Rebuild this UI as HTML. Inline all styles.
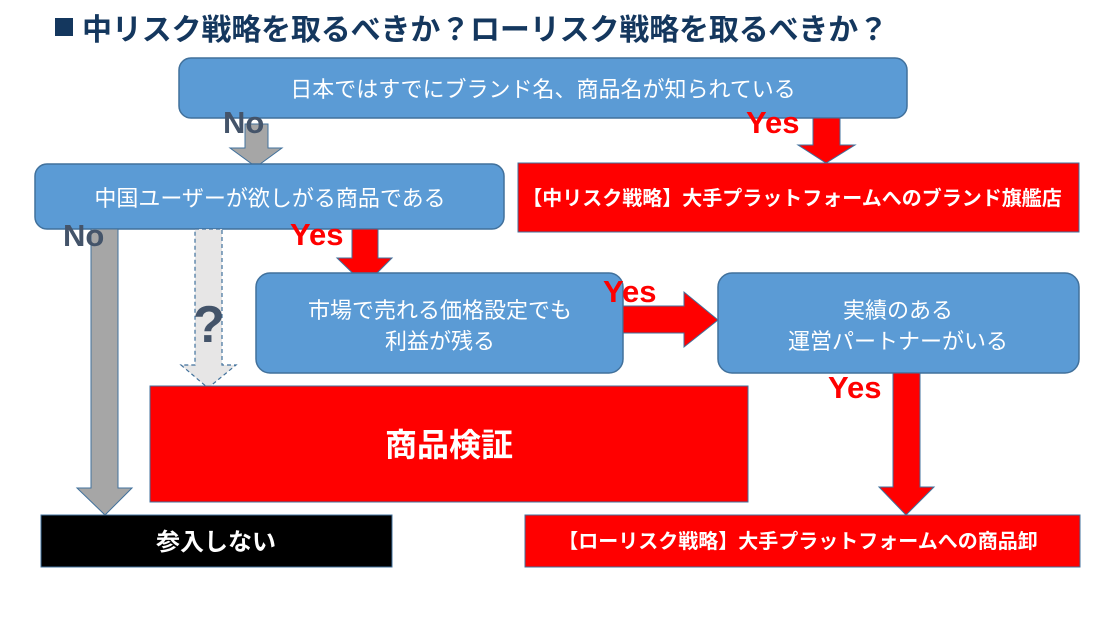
<!DOCTYPE html>
<html><head><meta charset="utf-8"><style>
html,body{margin:0;padding:0;background:#fff;}
svg{display:block;}
text{font-family:"Liberation Sans","Noto Sans CJK JP",sans-serif;}
</style></head><body>
<svg width="1119" height="617" viewBox="0 0 1119 617" xmlns="http://www.w3.org/2000/svg">
<rect x="55" y="18" width="18" height="18" fill="#14375e"/>
<text x="82" y="40" font-size="30" font-weight="bold" fill="#14375e" letter-spacing="-0.15">中リスク戦略を取るべきか？ローリスク戦略を取るべきか？</text>

<rect x="179" y="58" width="728" height="60" rx="12" fill="#5b9bd5" stroke="#41719c" stroke-width="1.5"/>
<text x="543" y="97" font-size="22" fill="#fff" text-anchor="middle">日本ではすでにブランド名、商品名が知られている</text>

<polygon points="245,124 268,124 268,148 282,148 256,167 230,148 245,148" fill="#a6a6a6" stroke="#41719c" stroke-width="1"/>
<text x="223" y="133" font-size="31" font-weight="bold" fill="#44546a">No</text>

<polygon points="813,118 840,118 840,145 855,145 826,163 798,145 813,145" fill="#ff0000" stroke="#41719c" stroke-width="1"/>
<text x="746" y="133" font-size="31" font-weight="bold" fill="#ff0000">Yes</text>

<rect x="35" y="164" width="469" height="65" rx="12" fill="#5b9bd5" stroke="#41719c" stroke-width="1.5"/>
<text x="270" y="206" font-size="22" fill="#fff" text-anchor="middle">中国ユーザーが欲しがる商品である</text>

<rect x="518" y="163" width="561" height="69" fill="#ff0000" stroke="#41719c" stroke-width="1"/>
<text x="792" y="205" font-size="20" font-weight="bold" fill="#fff" text-anchor="middle">【中リスク戦略】大手プラットフォームへのブランド旗艦店</text>

<polygon points="91,229 118,229 118,488 132,488 105,515 77,488 91,488" fill="#a6a6a6" stroke="#41719c" stroke-width="1"/>
<text x="63" y="246" font-size="31" font-weight="bold" fill="#44546a">No</text>

<polygon points="195,229 222,229 222,365 236,365 208,388 181,365 195,365" fill="#e7e6e6" stroke="#41719c" stroke-width="1.2" stroke-dasharray="4,3"/>
<text x="193" y="342" font-size="52" font-weight="bold" fill="#44546a">?</text>

<polygon points="352,229 378,229 378,258 392,258 365,285 337,258 352,258" fill="#ff0000" stroke="#41719c" stroke-width="1"/>
<text x="290" y="245" font-size="31" font-weight="bold" fill="#ff0000">Yes</text>

<rect x="256" y="273" width="367" height="100" rx="14" fill="#5b9bd5" stroke="#41719c" stroke-width="1.5"/>
<text x="440" y="318" font-size="22" fill="#fff" text-anchor="middle">市場で売れる価格設定でも</text>
<text x="440" y="349" font-size="22" fill="#fff" text-anchor="middle">利益が残る</text>

<polygon points="623,306 684,306 684,292 718,320 684,347 684,333 623,333" fill="#ff0000" stroke="#41719c" stroke-width="1"/>
<text x="603" y="302" font-size="31" font-weight="bold" fill="#ff0000">Yes</text>

<rect x="718" y="273" width="361" height="100" rx="14" fill="#5b9bd5" stroke="#41719c" stroke-width="1.5"/>
<text x="898" y="318" font-size="22" fill="#fff" text-anchor="middle">実績のある</text>
<text x="898" y="349" font-size="22" fill="#fff" text-anchor="middle">運営パートナーがいる</text>

<rect x="150" y="386" width="598" height="116" fill="#ff0000" stroke="#41719c" stroke-width="1"/>
<text x="449" y="456" font-size="32" font-weight="bold" fill="#fff" text-anchor="middle">商品検証</text>

<polygon points="893,373 920,373 920,487 934,487 906,515 879,487 893,487" fill="#ff0000" stroke="#41719c" stroke-width="1"/>
<text x="828" y="398" font-size="31" font-weight="bold" fill="#ff0000">Yes</text>

<rect x="41" y="515" width="351" height="52" fill="#000" stroke="#41719c" stroke-width="1"/>
<text x="216" y="550" font-size="24" font-weight="bold" fill="#fff" text-anchor="middle">参入しない</text>

<rect x="525" y="515" width="555" height="52" fill="#ff0000" stroke="#41719c" stroke-width="1"/>
<text x="798" y="548" font-size="20" font-weight="bold" fill="#fff" text-anchor="middle">【ローリスク戦略】大手プラットフォームへの商品卸</text>
</svg>
</body></html>
